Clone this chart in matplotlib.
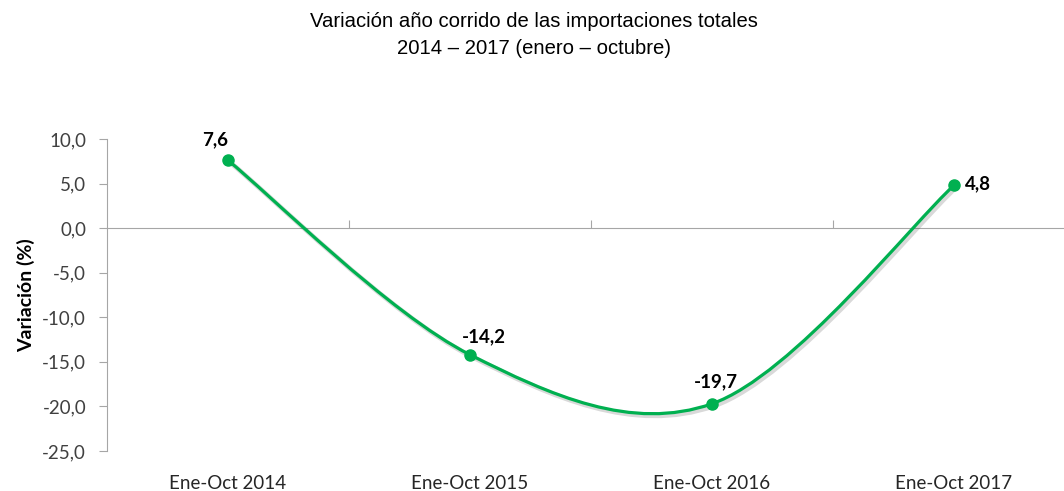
import matplotlib
matplotlib.use("Agg")
import matplotlib.pyplot as plt
import matplotlib.patheffects as pe
from matplotlib.path import Path
from matplotlib.patches import PathPatch
import numpy as np

periodos = ["Ene-Oct 2014", "Ene-Oct 2015", "Ene-Oct 2016", "Ene-Oct 2017"]
variacion = [7.6, -14.2, -19.7, 4.8]
etiquetas = ["7,6", "-14,2", "-19,7", "4,8"]
y_ticks = [10, 5, 0, -5, -10, -15, -20, -25]

verde = "#00B050"
gris = "#A6A6A6"
fuente = ["Lato", "DejaVu Sans"]


def curva_suave(xs, ys):
    # bezier como el "suavizado" de excel
    pts = np.column_stack([xs, ys]).astype(float)
    n = len(pts)
    verts = [pts[0]]
    codes = [Path.MOVETO]
    for i in range(n - 1):
        p0 = pts[i - 1] if i > 0 else pts[i]
        p1 = pts[i]
        p2 = pts[i + 1]
        p3 = pts[i + 2] if i + 2 < n else pts[i + 1]
        c1 = p1 + (p2 - p0) / 6.0
        c2 = p2 - (p3 - p1) / 6.0
        verts += [c1, c2, p2]
        codes += [Path.CURVE4] * 3
    return Path(verts, codes)


fig = plt.figure(figsize=(10.64, 4.91), dpi=100)
ax = fig.add_axes([107 / 1064, 1 - 451 / 491, 968 / 1064, 312 / 491])

ymin, ymax = -25, 10
ax.set_ylim(ymin, ymax)
ax.set_xlim(-0.5, len(periodos) - 0.5)

x = np.arange(len(periodos))
linea = PathPatch(curva_suave(x, variacion), facecolor="none", edgecolor=verde,
                  lw=2.3, transform=ax.transData, zorder=3, capstyle="round")
linea.set_path_effects([pe.SimpleLineShadow(offset=(1.5, -1.5), alpha=0.15, linewidth=3.5),
                        pe.Normal()])
ax.add_patch(linea)
ax.plot(x, variacion, "o", color=verde, ms=8, mec=verde, zorder=4)

# etiquetas de datos
offs = [(-9, 15), (10, 13), (3, 16), (17, 1)]
for xi, yi, t, (dx, dy) in zip(x, variacion, etiquetas, offs):
    ax.annotate(t, (xi, yi), xytext=(dx, dy), textcoords="offset points",
                ha="center", va="center", fontsize=13.5, fontweight="bold",
                family=fuente, color="black")

# eje y
for s in ["top", "right", "bottom"]:
    ax.spines[s].set_visible(False)
ax.spines["left"].set_color(gris)
ax.set_yticks(y_ticks)
ax.set_yticklabels([f"{v:.1f}".replace(".", ",") for v in y_ticks],
                   fontsize=13.5, family=fuente, color="#404040")
ax.tick_params(axis="y", direction="out", length=6, color=gris, pad=9)
ax.set_ylabel("Variación (%)", fontsize=14, fontweight="bold", family=fuente, labelpad=5)

# categorias abajo
ax.set_xticks(x)
ax.set_xticklabels(periodos, fontsize=13.5, family=fuente, color="#262626")
ax.tick_params(axis="x", length=0, pad=17)

# linea de eje en cero con marcas entre categorias
sec = ax.secondary_xaxis((0 - ymin) / (ymax - ymin))
sec.set_xticks(x[:-1] + 0.5)
sec.set_xticklabels([])
for sp in sec.spines.values():
    sp.set_color(gris)
sec.tick_params(direction="out", length=6, color=gris)

fig.text(0.502, 0.929, "Variación año corrido de las importaciones totales\n2014 – 2017 (enero – octubre)",
         ha="center", va="center", fontsize=14.6, family="Liberation Sans", linespacing=1.55)

fig.savefig("out.png", dpi=100)
